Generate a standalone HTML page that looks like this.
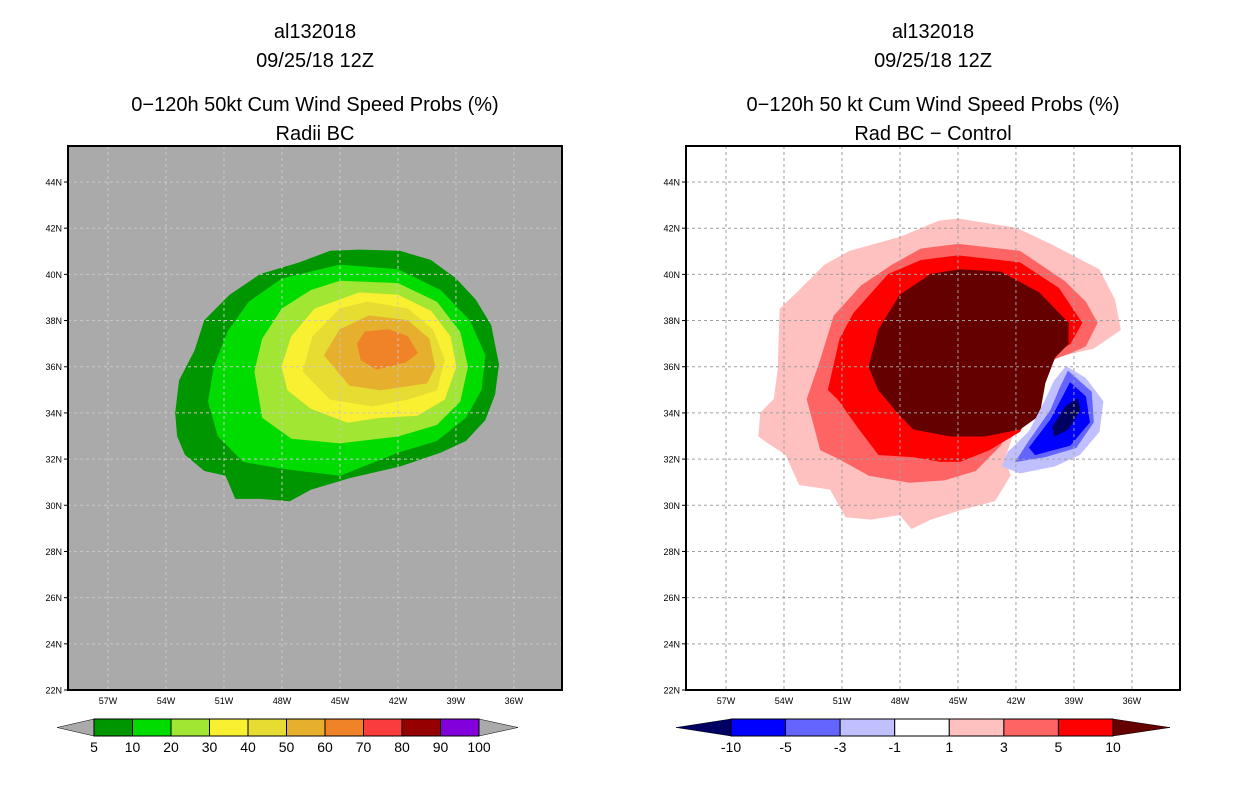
<!DOCTYPE html>
<html><head><meta charset="utf-8"><style>
body{margin:0;background:#fff;width:1236px;height:800px;overflow:hidden}
svg text{font-family:"Liberation Sans","DejaVu Sans",sans-serif;fill:#000}
</style></head><body>
<svg id="s" width="1236" height="800" xmlns="http://www.w3.org/2000/svg"></svg>
<script>
// ---- data (lon in degrees W, lat in degrees N) ----
const latTicks=[22,24,26,28,30,32,34,36,38,40,42,44];
const lonTicks=[57,54,51,48,45,42,39,36];
const leftLevels=["5","10","20","30","40","50","60","70","80","90","100"];
const leftColors=["#009600","#00dc00","#a0e632","#faf032","#e6dc32","#e6af2d","#f08228","#fa3c3c","#960000","#8200dc"];
const rightLevels=["-10","-5","-3","-1","1","3","5","10"];
const rightColors=["#0000ff","#6464ff","#c0c0ff","#ffffff","#ffc0c0","#ff6464","#ff0000"];
const probLvl5=[[53.5,34.0],[53.3,35.4],[52.5,36.7],[52.0,38.0],[50.7,39.1],[49.1,40.0],[47.1,40.5],[45.5,41.0],[44.0,41.05],[41.9,41.0],[40.3,40.6],[39.0,39.8],[38.0,38.9],[37.2,37.8],[36.8,36.1],[37.0,34.8],[37.5,33.7],[38.5,32.8],[39.8,32.3],[41.9,31.7],[44.5,31.2],[46.5,30.7],[47.6,30.2],[49.1,30.3],[50.4,30.3],[50.9,31.3],[52,31.5],[53.0,32.2],[53.4,33.0]];
const probLvl10=[[51.8,34.5],[51.5,36],[50.8,37.5],[49.7,38.8],[48,39.8],[45,40.4],[42,40.2],[39.8,39.3],[38.3,38],[37.5,36.5],[37.7,35],[38.5,33.8],[40,32.8],[42,32.3],[45,31.3],[48,31.6],[50,31.9],[51.3,33]];
const probLvl20=[[49.4,35.8],[49,37.2],[48,38.5],[46.5,39.3],[45,39.7],[42,39.6],[40,38.8],[38.8,37.5],[38.4,36],[38.8,34.5],[40,33.5],[42,33.0],[45,32.7],[47.5,32.9],[49,33.8]];
const probLvl30=[[48,36],[47.5,37.3],[46.3,38.5],[44,39.2],[42,39.1],[40.3,38.4],[39.3,37.3],[39,36],[39.6,34.6],[41,33.9],[43,33.8],[44.6,33.6],[46.5,34.2],[47.7,35]];
const probLvl40=[[46.9,35.8],[46.4,37.3],[45,38.5],[43.6,38.8],[41.5,38.5],[40.2,37.6],[39.6,36.3],[40,35],[41.5,34.6],[43.3,34.3],[45.5,34.6]];
const probLvl50=[[45.8,36.5],[45,37.6],[43.5,38.2],[41.5,38],[40.4,37.2],[40.1,36],[40.5,35.3],[42.9,35.0],[44.5,35.2]];
const probLvl60=[[44.1,37.0],[43.7,37.5],[42.5,37.6],[41.5,37.3],[41.0,36.6],[41.6,36.2],[43.1,35.9],[43.9,36.3]];
const diffP1=[[45,42.4],[42,42.0],[40.2,41.3],[37.7,40.2],[36.9,38.9],[36.6,37.6],[38.0,36.8],[39.6,36.5],[40.8,36.0],[41.6,34.5],[42.6,32.0],[42.3,31.3],[43.1,30.2],[44.9,29.8],[46.4,29.4],[47.4,29.0],[48,29.6],[49.5,29.4],[50.8,29.5],[51.6,30.7],[53.2,30.9],[53.9,32.2],[55,32.8],[55.3,33.0],[55.2,34.0],[54.5,34.6],[54.3,35.9],[54.2,38.5],[53.2,39.3],[51.9,40.4],[50.6,41.0],[48,41.6],[46,42.3]];
const diffP3=[[45,41.3],[41.8,41.0],[39.5,39.7],[38.4,38.8],[37.8,37.9],[38.4,36.9],[39.2,36.6],[40.8,36.1],[41.8,34.5],[42.8,32.6],[44.1,31.5],[45.7,31.1],[47.5,31.0],[49.6,31.3],[51.1,32.0],[52.1,32.4],[52.8,34.6],[52.1,36.3],[51.4,38.2],[50,39.5],[48.4,40.4],[46.9,41.1]];
const diffP5=[[45,40.8],[41.8,40.5],[39.8,39.4],[38.6,37.9],[39.2,37.0],[40,36.6],[40.5,36.1],[41,34.7],[41.8,33.2],[43.4,32.4],[44.9,31.9],[45.9,31.9],[47.3,32.1],[49.1,32.2],[50.1,33.3],[51.2,34.6],[51.7,35.0],[51.1,37.2],[50.4,38.3],[48.6,40.0],[46.9,40.6]];
const diffP10=[[42.8,40.1],[40.8,39.2],[39.3,37.9],[39.3,37.0],[40,36.4],[40.5,35.3],[40.8,33.9],[41.8,33.3],[43.6,33.0],[45.4,33.0],[47.3,33.3],[48,33.9],[49.1,35.0],[49.6,36.0],[49.1,37.6],[48,39.1],[46.4,40.0],[44.9,40.2]];
const diffN1=[[39.4,36.0],[38.4,35.5],[37.5,34.5],[37.7,33.2],[38.7,32.2],[40,31.7],[41.8,31.4],[42.7,31.7],[42.4,32.3],[41.3,33.2],[40.5,34.5],[40,35.4]];
const diffN3=[[39.3,35.8],[38.1,34.9],[38,33.6],[38.9,32.5],[40.5,32.1],[42,31.9],[41.3,32.8],[40.2,34.1],[39.7,35.1]];
const diffN5=[[39.2,35.3],[38.4,34.7],[38.2,33.6],[39.2,32.6],[41,32.2],[41.3,32.5],[40.2,33.7],[39.5,34.8]];
const diffN10=[[38.8,34.6],[38.7,34.1],[39.3,33.3],[40,33.0],[40.1,33.4],[39.4,34.3]];

const NS="http://www.w3.org/2000/svg";
const svg=document.getElementById('s');
function mk(tag,attrs,parent){const e=document.createElementNS(NS,tag);for(const k in attrs)e.setAttribute(k,attrs[k]);(parent||svg).appendChild(e);return e;}
const PW=494,PH=544,TOP=146;
function xs(x0){return lon=>x0+40+(57-lon)*19.33;}
function ys(lat){return 690-(lat-22)*23.09;}
function poly(g,pts,x,col,name){const p=mk('polygon',{points:pts.map(q=>x(q[0]).toFixed(1)+','+ys(q[1]).toFixed(1)).join(' '),fill:col,stroke:col,'stroke-width':1},g);

return p;}
function txt(x,y,s,size,anchor,name,parent){const t=mk('text',{x:x,y:y,'font-size':size,'text-anchor':anchor||'middle'},parent);t.textContent=s;

return t;}

function panel(x0,bg,gridCol,titles,polys,name){
  const g=mk('g',{});
  
  
  const cx=x0+PW/2;
  txt(cx,38,titles[0],20,'middle','title-storm',g);
  txt(cx,67,titles[1],20,'middle','title-date',g);
  txt(cx,111,titles[2],20,'middle','title-product',g);
  txt(cx,140,titles[3],20,'middle','title-subtitle',g);
  const cp=mk('clipPath',{id:'c'+x0},g);mk('rect',{x:x0,y:TOP,width:PW,height:PH},cp);
  const bgr=mk('rect',{x:x0,y:TOP,width:PW,height:PH,fill:bg},g);
  
  
  const pg=mk('g',{'clip-path':'url(#c'+x0+')'},g);
  const X=xs(x0);
  polys.forEach(p=>poly(pg,p[0],X,p[1],p[2]));
  latTicks.forEach(l=>{const y=ys(l);
    if(l>22){const gl=mk('line',{x1:x0,x2:x0+PW,y1:y,y2:y,stroke:gridCol,'stroke-width':1,'stroke-dasharray':'3,3'},g);
    }
    mk('line',{x1:x0-4,x2:x0,y1:y,y2:y,stroke:'#000'},g);
    txt(x0-6,y+3.5,l+'N',9,'end','lat-tick-label',g);});
  lonTicks.forEach(l=>{const x=X(l);
    const gl=mk('line',{x1:x,x2:x,y1:TOP,y2:TOP+PH,stroke:gridCol,'stroke-width':1,'stroke-dasharray':'3,3'},g);
    
    txt(x,TOP+PH+14,l+'W',9,'middle','lon-tick-label',g);});
  const fr=mk('rect',{x:x0,y:TOP,width:PW,height:PH,fill:'none',stroke:'#000','stroke-width':2},g);
  
}
panel(68,'#aaaaaa','#c8c8c8',["al132018","09/25/18 12Z","0\u2212120h 50kt Cum Wind Speed Probs (%)","Radii BC"],
 [[probLvl5,leftColors[0],'contour-5'],[probLvl10,leftColors[1],'contour-10'],[probLvl20,leftColors[2],'contour-20'],[probLvl30,leftColors[3],'contour-30'],[probLvl40,leftColors[4],'contour-40'],[probLvl50,leftColors[5],'contour-50'],[probLvl60,leftColors[6],'contour-60']],'left-panel');
panel(686,'#ffffff','#a0a0a0',["al132018","09/25/18 12Z","0\u2212120h 50 kt Cum Wind Speed Probs (%)","Rad BC \u2212 Control"],
 [[diffP1,rightColors[4],'contour-pos-1'],[diffP3,rightColors[5],'contour-pos-3'],[diffP5,rightColors[6],'contour-pos-5'],[diffP10,'#640000','contour-pos-10'],[diffN1,rightColors[2],'contour-neg-1'],[diffN3,rightColors[1],'contour-neg-3'],[diffN5,rightColors[0],'contour-neg-5'],[diffN10,'#000064','contour-neg-10']],'right-panel');

function colorbar(x0,x1,triL,triR,colors,labels,lc,rc,name){
  const g=mk('g',{});
  
  
  const y0=719,y1=736,ym=727.5,w=(x1-x0)/colors.length;
  mk('polygon',{points:`${triL},${ym} ${x0},${y0} ${x0},${y1}`,fill:lc,stroke:'#000','stroke-width':0.5},g);
  mk('polygon',{points:`${triR},${ym} ${x1},${y0} ${x1},${y1}`,fill:rc,stroke:'#000','stroke-width':0.5},g);
  colors.forEach((c,i)=>{const r=mk('rect',{x:x0+i*w,y:y0,width:w,height:y1-y0,fill:c,stroke:'#000','stroke-width':1},g);
    });
  labels.forEach((l,i)=>txt(x0+i*w,752,l,14,'middle','colorbar-label',g));
}
colorbar(94,479,57,518,leftColors,leftLevels,'#aaaaaa','#aaaaaa','left-colorbar');
colorbar(731,1113,676,1170,rightColors,rightLevels,'#000064','#640000','right-colorbar');
</script>
</body></html>
